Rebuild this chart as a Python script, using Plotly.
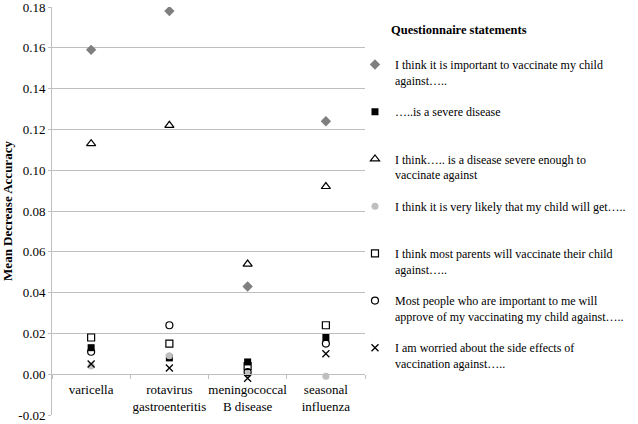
import plotly.graph_objects as go

categories = ["varicella", "rotavirus<br>gastroenteritis", "meningococcal<br>B disease", "seasonal<br>influenza"]

important = [0.159, 0.178, 0.043, 0.124]
severe = [0.013, 0.008, 0.006, 0.018]
severe_enough = [0.113, 0.122, 0.054, 0.092]
likely = [0.004, 0.009, 0.000, -0.001]
most_parents = [0.018, 0.015, 0.004, 0.024]
important_people = [0.011, 0.024, 0.001, 0.015]
side_effects = [0.005, 0.003, -0.002, 0.010]

y_tickvals = [-0.02, 0.00, 0.02, 0.04, 0.06, 0.08, 0.10, 0.12, 0.14, 0.16, 0.18]
y_ticktext = ["-0.02", "0.00", "0.02", "0.04", "0.06", "0.08", "0.10", "0.12", "0.14", "0.16", "0.18"]

series = [
    ("I think it is important to vaccinate my child<br>against…..", important,
     dict(symbol="diamond", color="#7f7f7f", size=8)),
    ("…..is a severe disease<br>\u00a0", severe,
     dict(symbol="square", color="#000000", size=7)),
    ("I think….. is a disease severe enough to<br>vaccinate against", severe_enough,
     dict(symbol="triangle-up-open", color="#000000", size=8, line=dict(width=1.2))),
    ("I think it is very likely that my child will get…..<br>\u00a0", likely,
     dict(symbol="circle", color="#bfbfbf", size=7)),
    ("I think most parents will vaccinate their child<br>against…..", most_parents,
     dict(symbol="square-open", color="#000000", size=7, line=dict(width=1.2))),
    ("Most people who are important to me will<br>approve of my vaccinating my child against…..", important_people,
     dict(symbol="circle-open", color="#000000", size=7, line=dict(width=1.2))),
    ("I am worried about the side effects of<br>vaccination against…..", side_effects,
     dict(symbol="x-thin-open", color="#000000", size=7, line=dict(width=1.3))),
]

FONT = "Liberation Serif, Times New Roman, serif"

fig = go.Figure()
for i, (name, vals, marker) in enumerate(series):
    fig.add_trace(go.Scatter(
        x=categories, y=vals, mode="markers", name=name,
        marker=marker, legendgroup=f"g{i}",
    ))

fig.update_layout(
    width=638, height=424,
    margin=dict(l=52, r=273, t=7, b=9, autoexpand=False),
    plot_bgcolor="white", paper_bgcolor="white",
    font=dict(family=FONT, size=13, color="#000000"),
    showlegend=True,
    legend=dict(
        x=0.968, xanchor="left", y=0.894, yanchor="top",
        valign="top", tracegroupgap=13,
        font=dict(family=FONT, size=12, color="#000000"),
        bgcolor="rgba(0,0,0,0)",
    ),
    annotations=[dict(
        text="<b>Questionnaire statements</b>", xref="paper", yref="paper",
        x=1.078, y=0.943, xanchor="left", yanchor="middle", showarrow=False,
        font=dict(family=FONT, size=12.5, color="#000000"),
    )],
)

fig.update_xaxes(
    type="category", anchor="free", position=0.1,
    showline=True, linecolor="#bfbfbf", linewidth=1,
    ticks="outside", tickson="boundaries", ticklen=4, tickcolor="#bfbfbf",
    showgrid=False, tickfont=dict(family=FONT, size=13), tickangle=0,
    ticklabelstandoff=3, range=[-0.5, 3.5],
)
fig.update_yaxes(
    range=[-0.02, 0.18], tickvals=y_tickvals, ticktext=y_ticktext,
    showgrid=True, gridcolor="#bfbfbf", gridwidth=1,
    showline=True, linecolor="#bfbfbf", linewidth=1,
    ticks="outside", ticklen=3, tickcolor="#bfbfbf",
    zeroline=False, tickfont=dict(family=FONT, size=13),
    ticklabeloverflow="allow",
    title=dict(text="<b>Mean Decrease Accuracy</b>", font=dict(family=FONT, size=13), standoff=4),
)

fig.write_html(
    "out.html",
    config={"displayModeBar": False},
    post_script="document.body.style.margin='0';document.body.style.overflow='hidden';",
)
